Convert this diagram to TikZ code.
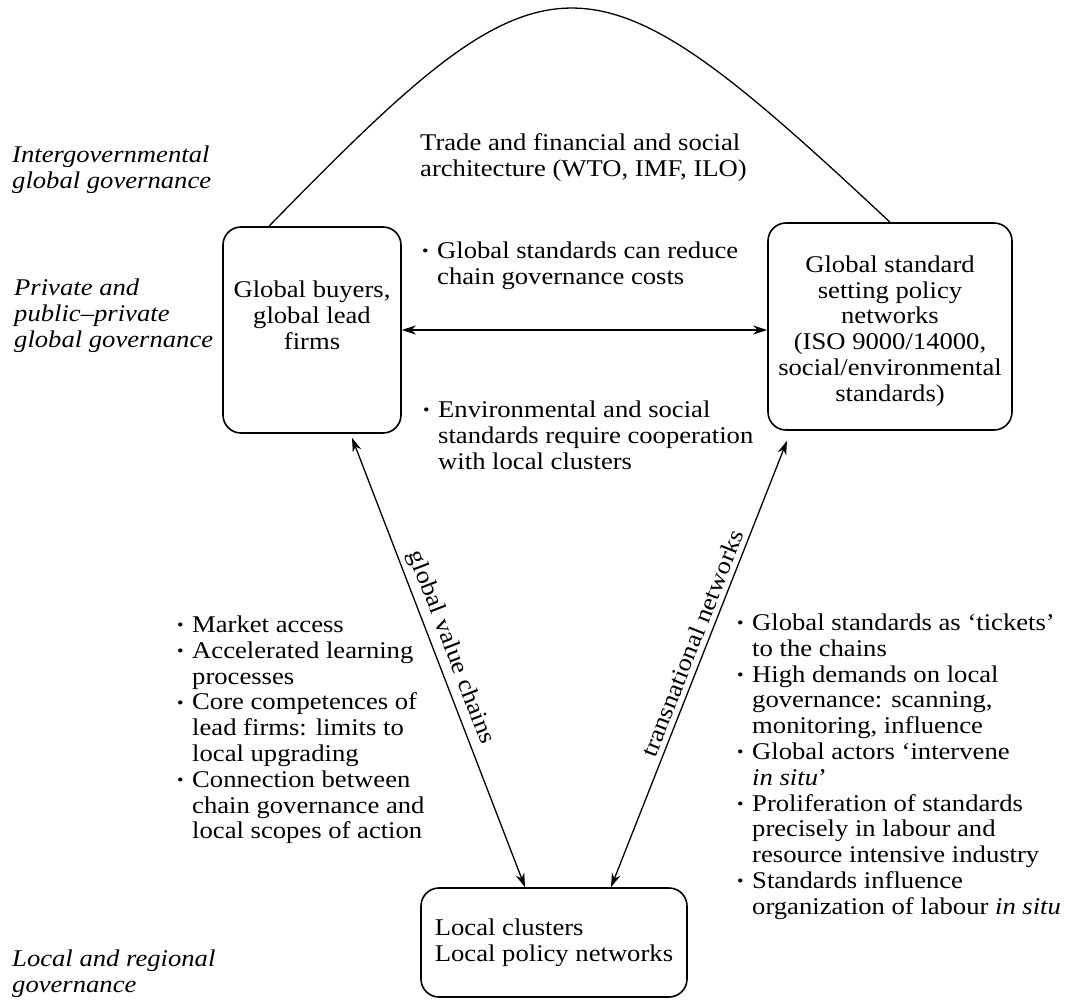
\documentclass[tikz,border=0pt]{standalone}
\usepackage{graphicx}
\usepackage{fontspec}
\setmainfont[FakeStretch=1.11]{Liberation Serif}
\usetikzlibrary{arrows.meta}
% bullet and hanging indent for the item lists
\newcommand\bul{\makebox[15pt][l]{\raisebox{0.15ex}{\scalebox{0.7}{\textbullet}}}}
\newcommand\ind{\hspace*{15pt}}

\begin{document}
\begin{tikzpicture}[x=1pt,y=-1pt,
  every node/.style={font=\fontsize{24}{25.8}\selectfont, inner sep=0pt},
  % multi-line blocks are placed by the baseline of their last line
  txt/.style={align=left, anchor=base west},
  lvl/.style={txt, font=\fontsize{24}{25.8}\selectfont\itshape},
  box/.style={draw, line width=1.6pt, rounded corners=18pt},
  link/.style={line width=1.3pt,
    {Stealth[length=14pt,width=9pt]}-{Stealth[length=14pt,width=9pt]}},
  flow/.style={sloped, above=5pt}
]
\useasboundingbox (0,0) rectangle (1071,1000);

% actors
\node[box, minimum width=178pt, minimum height=206pt] (buyers) at (312,330) {};
\node[align=center] (buyerstxt) at (312,315) {Global buyers,\\global lead\\firms};
\node[box, minimum width=244pt, minimum height=207pt] (std) at (890,326.5) {};
\node[align=center] (stdtxt) at (890,331)
  {Global standard\\setting policy\\networks\\(ISO 9000/14000,\\social/environmental\\standards)};
\node[box, minimum width=266pt, minimum height=109pt, align=left] (local) at (554,942.5)
  {Local clusters\\Local policy networks};

% governance levels
\node[lvl] (lv1) at (12,188.3) {Intergovernmental\\global governance};
\node[lvl] (lv2) at (14,347.1) {Private and\\public–private\\global governance};
\node[lvl] (lv3) at (12,992) {Local and regional\\governance};

% explanatory texts
\node[txt] (arch) at (420,176.3) {Trade and financial and social\\architecture (WTO, IMF, ILO)};
\node[txt] (cost) at (422,284.3) {\bul Global standards can reduce\\\ind chain governance costs};
\node[txt] (coop) at (423,469.1) {\bul Environmental and social\\\ind standards require cooperation\\\ind with local clusters};
\node[txt] (gvcl) at (177,838.9) {\bul Market access\\\bul Accelerated learning\\\ind processes\\\bul Core competences of\\\ind lead firms: limits to\\\ind local upgrading\\\bul Connection between\\\ind chain governance and\\\ind local scopes of action};
\node[txt] (tnl) at (737,914.3) {\bul Global standards as ‘tickets’\\\ind to the chains\\\bul High demands on local\\\ind governance: scanning,\\\ind monitoring, influence\\\bul Global actors ‘intervene\\\ind \textit{in situ}’\\\bul Proliferation of standards\\\ind precisely in labour and\\\ind resource intensive industry\\\bul Standards influence\\\ind organization of labour \textit{in situ}};

% connectors
\coordinate (arcL) at ([xshift=-43pt]buyers.north);
\draw[line width=1.3pt] (arcL) .. controls (552,-64) and (584,-64) .. (std.north);
\draw[link] (buyers.east) -- (buyers.east -| std.west);
\draw[link] ([xshift=40pt,yshift=-4pt]buyers.south)
  -- node[flow, pos=0.48] {global value chains} ([xshift=-29pt]local.north);
\draw[link] ([xshift=57pt]local.north)
  -- node[flow, pos=0.535] {transnational networks} ([xshift=-103pt,yshift=-10pt]std.south);
\end{tikzpicture}
\end{document}
